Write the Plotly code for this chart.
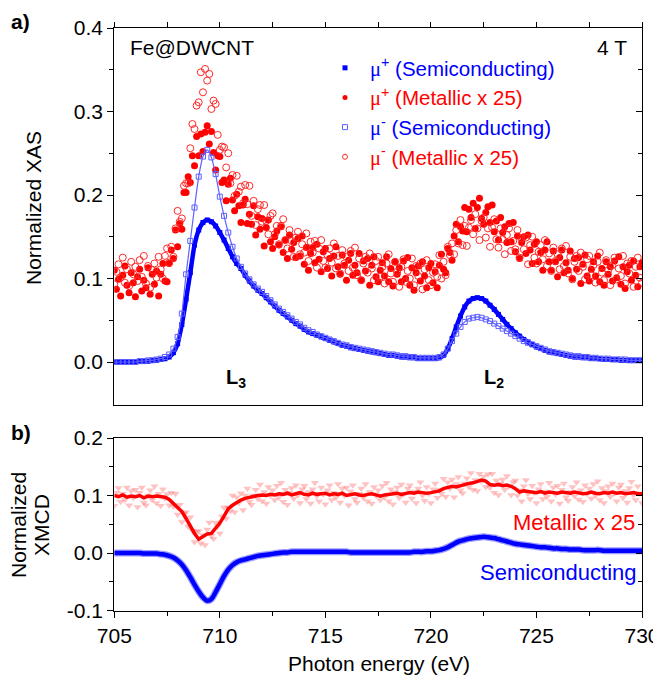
import numpy as np
import plotly.graph_objects as go

# ---------------- data ----------------
E_FINE = np.round(np.arange(705.0, 730.05, 0.1), 1)    # metallic XAS / XMCD raw sampling
E_COARSE = np.round(np.arange(705.0, 730.05, 0.2), 1)  # semiconducting / smoothed XMCD sampling

# mu+ metallic (x25), filled red circles
M_PLUS = [
    0.110, 0.087, 0.099, 0.079, 0.104, 0.115, 0.092, 0.083, 0.107, 0.095,
    0.078, 0.102, 0.111, 0.085, 0.098, 0.089, 0.113, 0.081, 0.105, 0.093,
    0.109, 0.079, 0.105, 0.118, 0.097, 0.096, 0.118, 0.134, 0.124, 0.158,
    0.138, 0.166, 0.159, 0.203, 0.203, 0.222, 0.215, 0.247, 0.235, 0.270,
    0.247, 0.273, 0.252, 0.275, 0.283, 0.261, 0.276, 0.251, 0.230, 0.247,
    0.246, 0.215, 0.218, 0.193, 0.213, 0.220, 0.194, 0.181, 0.201, 0.187,
    0.167, 0.188, 0.195, 0.166, 0.177, 0.165, 0.187, 0.152, 0.174, 0.159,
    0.172, 0.139, 0.161, 0.170, 0.144, 0.136, 0.150, 0.157, 0.140, 0.162,
    0.131, 0.146, 0.124, 0.152, 0.135, 0.143, 0.125, 0.148, 0.127, 0.151,
    0.117, 0.137, 0.110, 0.130, 0.137, 0.119, 0.141, 0.123, 0.108, 0.132,
    0.136, 0.112, 0.124, 0.103, 0.127, 0.138, 0.114, 0.105, 0.128, 0.116,
    0.098, 0.122, 0.130, 0.104, 0.116, 0.107, 0.130, 0.098, 0.121, 0.109,
    0.124, 0.092, 0.116, 0.126, 0.102, 0.096, 0.110, 0.119, 0.103, 0.126,
    0.096, 0.112, 0.091, 0.120, 0.105, 0.113, 0.096, 0.121, 0.100, 0.125,
    0.092, 0.113, 0.086, 0.107, 0.115, 0.097, 0.120, 0.103, 0.089, 0.113,
    0.118, 0.095, 0.108, 0.089, 0.116, 0.129, 0.111, 0.107, 0.136, 0.131,
    0.122, 0.151, 0.165, 0.144, 0.162, 0.157, 0.185, 0.156, 0.183, 0.173,
    0.190, 0.160, 0.185, 0.196, 0.172, 0.165, 0.179, 0.186, 0.167, 0.188,
    0.156, 0.169, 0.146, 0.173, 0.155, 0.162, 0.143, 0.166, 0.144, 0.167,
    0.132, 0.151, 0.124, 0.143, 0.150, 0.130, 0.152, 0.134, 0.118, 0.141,
    0.144, 0.120, 0.131, 0.110, 0.134, 0.144, 0.120, 0.110, 0.133, 0.120,
    0.102, 0.125, 0.134, 0.107, 0.119, 0.110, 0.133, 0.100, 0.124, 0.111,
    0.125, 0.094, 0.117, 0.128, 0.103, 0.097, 0.111, 0.120, 0.103, 0.127,
    0.096, 0.112, 0.092, 0.120, 0.105, 0.114, 0.097, 0.121, 0.101, 0.126,
    0.093, 0.114, 0.088, 0.108, 0.116, 0.098, 0.121, 0.104, 0.090, 0.114,
    0.119,
]

# mu- metallic (x25), open red circles
M_MINUS = [
    0.093, 0.108, 0.117, 0.101, 0.125, 0.095, 0.111, 0.091, 0.120, 0.105,
    0.114, 0.097, 0.122, 0.102, 0.127, 0.094, 0.115, 0.089, 0.110, 0.118,
    0.101, 0.126, 0.111, 0.100, 0.127, 0.136, 0.119, 0.138, 0.126, 0.160,
    0.181, 0.168, 0.172, 0.211, 0.214, 0.214, 0.256, 0.285, 0.279, 0.307,
    0.311, 0.347, 0.323, 0.351, 0.337, 0.345, 0.303, 0.313, 0.309, 0.272,
    0.254, 0.258, 0.257, 0.233, 0.250, 0.214, 0.224, 0.199, 0.223, 0.204,
    0.210, 0.190, 0.212, 0.189, 0.211, 0.175, 0.193, 0.164, 0.183, 0.188,
    0.168, 0.188, 0.169, 0.153, 0.175, 0.178, 0.153, 0.163, 0.141, 0.163,
    0.171, 0.146, 0.136, 0.158, 0.145, 0.126, 0.149, 0.156, 0.129, 0.141,
    0.131, 0.154, 0.121, 0.144, 0.131, 0.145, 0.113, 0.136, 0.146, 0.121,
    0.113, 0.128, 0.136, 0.119, 0.142, 0.112, 0.127, 0.106, 0.134, 0.118,
    0.126, 0.109, 0.133, 0.113, 0.137, 0.104, 0.124, 0.098, 0.118, 0.126,
    0.107, 0.130, 0.112, 0.098, 0.121, 0.126, 0.102, 0.114, 0.094, 0.118,
    0.129, 0.106, 0.096, 0.120, 0.108, 0.090, 0.114, 0.123, 0.096, 0.109,
    0.100, 0.124, 0.092, 0.115, 0.103, 0.118, 0.087, 0.111, 0.122, 0.098,
    0.092, 0.107, 0.117, 0.102, 0.128, 0.100, 0.120, 0.104, 0.138, 0.128,
    0.142, 0.129, 0.158, 0.142, 0.170, 0.140, 0.163, 0.139, 0.161, 0.170,
    0.153, 0.177, 0.160, 0.146, 0.169, 0.173, 0.149, 0.160, 0.138, 0.161,
    0.171, 0.147, 0.137, 0.160, 0.147, 0.129, 0.152, 0.160, 0.133, 0.145,
    0.135, 0.158, 0.125, 0.148, 0.135, 0.149, 0.117, 0.140, 0.150, 0.125,
    0.118, 0.132, 0.140, 0.123, 0.146, 0.115, 0.130, 0.109, 0.137, 0.121,
    0.129, 0.111, 0.136, 0.115, 0.139, 0.106, 0.126, 0.099, 0.120, 0.127,
    0.109, 0.131, 0.114, 0.099, 0.123, 0.127, 0.104, 0.116, 0.095, 0.120,
    0.131, 0.107, 0.098, 0.122, 0.110, 0.092, 0.116, 0.125, 0.099, 0.112,
    0.103, 0.127, 0.094, 0.118, 0.106, 0.121, 0.090, 0.114, 0.125, 0.101,
    0.095,
]

# mu+ semiconducting, filled blue squares
S_PLUS = [
    0.000, 0.000, 0.000, 0.000, 0.000,
    0.000, 0.001, 0.001, 0.001, 0.002,
    0.002, 0.003, 0.004, 0.006, 0.011,
    0.022, 0.045, 0.075, 0.107, 0.140,
    0.158, 0.167, 0.170, 0.168, 0.163,
    0.155, 0.146, 0.136, 0.126, 0.118,
    0.112, 0.104, 0.097, 0.091, 0.086,
    0.082, 0.077, 0.072, 0.067, 0.062,
    0.058, 0.054, 0.050, 0.046, 0.043,
    0.039, 0.036, 0.034, 0.032, 0.030,
    0.028, 0.026, 0.024, 0.022, 0.020,
    0.019, 0.017, 0.016, 0.015, 0.014,
    0.013, 0.012, 0.011, 0.010, 0.009,
    0.008, 0.008, 0.007, 0.006, 0.006,
    0.005, 0.005, 0.004, 0.004, 0.004,
    0.004, 0.004, 0.005, 0.008, 0.016,
    0.028, 0.042, 0.055, 0.066, 0.073,
    0.076, 0.077, 0.076, 0.073, 0.068,
    0.063, 0.057, 0.051, 0.045, 0.040,
    0.035, 0.031, 0.027, 0.024, 0.021,
    0.018, 0.016, 0.014, 0.012, 0.011,
    0.010, 0.009, 0.008, 0.007, 0.006,
    0.006, 0.005, 0.005, 0.004, 0.004,
    0.004, 0.003, 0.003, 0.003, 0.003,
    0.002, 0.002, 0.002, 0.002, 0.002,
    0.002,
]

# mu- semiconducting, open blue squares
S_MINUS = [
    0.000, 0.000, 0.000, 0.000, 0.000,
    0.000, 0.001, 0.001, 0.002, 0.002,
    0.003, 0.004, 0.006, 0.009, 0.016,
    0.030, 0.058, 0.105, 0.145, 0.185,
    0.222, 0.246, 0.254, 0.245, 0.225,
    0.198, 0.175, 0.155, 0.138, 0.124,
    0.114, 0.106, 0.099, 0.093, 0.088,
    0.084, 0.079, 0.074, 0.069, 0.064,
    0.060, 0.056, 0.052, 0.048, 0.045,
    0.041, 0.038, 0.036, 0.033, 0.031,
    0.029, 0.027, 0.025, 0.023, 0.021,
    0.020, 0.018, 0.017, 0.016, 0.015,
    0.014, 0.013, 0.012, 0.011, 0.010,
    0.009, 0.009, 0.008, 0.007, 0.007,
    0.006, 0.006, 0.005, 0.005, 0.005,
    0.005, 0.005, 0.006, 0.009, 0.016,
    0.025, 0.034, 0.042, 0.048, 0.052,
    0.053, 0.054, 0.053, 0.051, 0.049,
    0.046, 0.043, 0.040, 0.037, 0.034,
    0.031, 0.028, 0.025, 0.023, 0.021,
    0.019, 0.017, 0.015, 0.013, 0.012,
    0.011, 0.010, 0.009, 0.008, 0.007,
    0.007, 0.006, 0.006, 0.005, 0.005,
    0.004, 0.004, 0.004, 0.003, 0.003,
    0.003, 0.003, 0.002, 0.002, 0.002,
    0.002,
]

# XMCD semiconducting
XMCD_S = [
    0.000, 0.000, 0.000, 0.000, 0.000,
    0.000, 0.000, -0.001, -0.001, -0.001,
    -0.001, -0.002, -0.003, -0.005, -0.008,
    -0.013, -0.020, -0.030, -0.042, -0.055,
    -0.067, -0.077, -0.083, -0.080, -0.068,
    -0.054, -0.040, -0.029, -0.021, -0.016,
    -0.013, -0.011, -0.009, -0.007, -0.005,
    -0.004, -0.003, -0.002, -0.001, 0.000,
    0.001, 0.001, 0.002, 0.002, 0.002,
    0.002, 0.002, 0.002, 0.002, 0.002,
    0.002, 0.002, 0.002, 0.002, 0.002,
    0.002, 0.001, 0.001, 0.001, 0.001,
    0.001, 0.001, 0.001, 0.001, 0.001,
    0.001, 0.001, 0.001, 0.001, 0.001,
    0.001, 0.002, 0.002, 0.002, 0.003,
    0.003, 0.004, 0.005, 0.007, 0.010,
    0.014, 0.018, 0.021, 0.023, 0.025,
    0.026, 0.027, 0.028, 0.028, 0.027,
    0.026, 0.024, 0.022, 0.020, 0.018,
    0.016, 0.015, 0.014, 0.013, 0.012,
    0.011, 0.010, 0.010, 0.009, 0.008,
    0.008, 0.007, 0.007, 0.006, 0.006,
    0.006, 0.005, 0.005, 0.005, 0.005,
    0.005, 0.004, 0.004, 0.004, 0.004,
    0.004, 0.004, 0.004, 0.004, 0.004,
    0.004,
]

# XMCD metallic (x25, offset by 0.1) smoothed line
XMCD_M = [
    0.100, 0.098, 0.101, 0.097, 0.099,
    0.098, 0.100, 0.096, 0.099, 0.098,
    0.099, 0.098, 0.097, 0.093, 0.086,
    0.080, 0.072, 0.060, 0.046, 0.034,
    0.024, 0.028, 0.033, 0.034, 0.042,
    0.052, 0.064, 0.077, 0.083, 0.088,
    0.092, 0.095, 0.097, 0.099, 0.100,
    0.101, 0.100, 0.102, 0.101, 0.103,
    0.102, 0.104, 0.101, 0.103, 0.105,
    0.102, 0.101, 0.104, 0.102, 0.103,
    0.104, 0.101, 0.103, 0.102, 0.104,
    0.100, 0.102, 0.103, 0.101, 0.100,
    0.102, 0.103, 0.101, 0.099, 0.101,
    0.102, 0.103, 0.104, 0.102, 0.104,
    0.105, 0.104, 0.106, 0.105, 0.104,
    0.105, 0.106, 0.108, 0.112, 0.114,
    0.116, 0.115, 0.117, 0.120, 0.121,
    0.122, 0.124, 0.127, 0.125, 0.119,
    0.118, 0.119, 0.117, 0.118, 0.116,
    0.112, 0.106, 0.108, 0.107, 0.106,
    0.105, 0.107, 0.104, 0.106, 0.105,
    0.104, 0.106, 0.105, 0.104, 0.106,
    0.105, 0.103, 0.104, 0.106, 0.104,
    0.103, 0.105, 0.104, 0.106, 0.104,
    0.105, 0.103, 0.104, 0.105, 0.103,
    0.103,
]

# XMCD metallic raw points (pink triangles), 0.1 eV sampling
XMCD_M_PTS = [
    0.082, 0.105, 0.113, 0.089, 0.103, 0.092, 0.114, 0.083, 0.108, 0.096,
    0.110, 0.080, 0.105, 0.114, 0.088, 0.083, 0.100, 0.109, 0.092, 0.116,
    0.087, 0.103, 0.082, 0.111, 0.095, 0.102, 0.083, 0.105, 0.081, 0.103,
    0.067, 0.084, 0.054, 0.069, 0.071, 0.046, 0.062, 0.039, 0.019, 0.038,
    0.038, 0.017, 0.031, 0.014, 0.041, 0.053, 0.030, 0.025, 0.053, 0.046,
    0.034, 0.064, 0.079, 0.060, 0.079, 0.073, 0.100, 0.071, 0.097, 0.087,
    0.104, 0.075, 0.100, 0.112, 0.089, 0.084, 0.100, 0.110, 0.094, 0.119,
    0.090, 0.106, 0.086, 0.115, 0.100, 0.109, 0.092, 0.117, 0.097, 0.122,
    0.089, 0.110, 0.084, 0.105, 0.113, 0.095, 0.118, 0.101, 0.087, 0.111,
    0.117, 0.094, 0.106, 0.086, 0.111, 0.122, 0.099, 0.090, 0.114, 0.102,
    0.085, 0.109, 0.118, 0.092, 0.105, 0.096, 0.120, 0.088, 0.112, 0.100,
    0.114, 0.083, 0.107, 0.118, 0.094, 0.088, 0.103, 0.112, 0.096, 0.120,
    0.090, 0.106, 0.086, 0.115, 0.100, 0.109, 0.092, 0.117, 0.097, 0.122,
    0.090, 0.111, 0.085, 0.106, 0.114, 0.096, 0.119, 0.102, 0.088, 0.112,
    0.118, 0.095, 0.107, 0.087, 0.112, 0.123, 0.100, 0.091, 0.115, 0.103,
    0.087, 0.111, 0.121, 0.096, 0.110, 0.103, 0.129, 0.098, 0.123, 0.112,
    0.128, 0.097, 0.120, 0.132, 0.109, 0.104, 0.121, 0.130, 0.115, 0.139,
    0.110, 0.127, 0.108, 0.138, 0.125, 0.133, 0.115, 0.137, 0.114, 0.138,
    0.105, 0.126, 0.101, 0.121, 0.128, 0.110, 0.134, 0.116, 0.101, 0.123,
    0.126, 0.100, 0.109, 0.090, 0.116, 0.127, 0.103, 0.094, 0.117, 0.105,
    0.087, 0.111, 0.120, 0.094, 0.107, 0.098, 0.122, 0.090, 0.114, 0.102,
    0.117, 0.086, 0.110, 0.121, 0.097, 0.091, 0.106, 0.115, 0.099, 0.123,
    0.093, 0.109, 0.089, 0.118, 0.103, 0.112, 0.095, 0.120, 0.100, 0.125,
    0.092, 0.113, 0.087, 0.108, 0.116, 0.098, 0.121, 0.104, 0.090, 0.114,
    0.119, 0.096, 0.108, 0.088, 0.113, 0.124, 0.101, 0.092, 0.116, 0.104,
    0.087,
]

LEGEND_LABELS = [
    "μ<sup>+</sup> (Semiconducting)",
    "μ<sup>+</sup> (Metallic x 25)",
    "μ<sup>-</sup> (Semiconducting)",
    "μ<sup>-</sup> (Metallic x 25)",
]
XAS_TICKS = [0.0, 0.1, 0.2, 0.3, 0.4]
XAS_TICKTEXT = ["0.0", "0.1", "0.2", "0.3", "0.4"]
XAS_MINOR = [0.05, 0.15, 0.25, 0.35]
XMCD_TICKS = [-0.1, 0.0, 0.1, 0.2]
XMCD_TICKTEXT = ["-0.1", "0.0", "0.1", "0.2"]
XMCD_MINOR = [-0.05, 0.05, 0.15]
E_TICKS = [705, 710, 715, 720, 725, 730]
E_MINOR = [707.5, 712.5, 717.5, 722.5, 727.5]

# ---------------- styling ----------------
FONT = "Liberation Sans, Arial, sans-serif"
BLUE = "rgb(0,0,255)"
BLUE_OPEN = "rgb(95,95,255)"
RED = "rgb(255,0,0)"
RED_OPEN = "rgb(255,40,40)"
PAGE_OFF = 8               # the page body's default margin
W, H = 661 - PAGE_OFF, 683 - 2 * PAGE_OFF


def px(x):
    """page x pixel -> paper fraction"""
    return (x - PAGE_OFF) / W


def py(y):
    """page y pixel -> paper fraction"""
    return 1 - (y - PAGE_OFF) / H


XD = [px(114.3), px(642)]
TOP_D = [py(405), py(28)]
BOT_D = [py(610.5), py(438)]

fig = go.Figure()

# ---- top panel data ----
fig.add_trace(go.Scatter(x=E_FINE, y=M_PLUS, mode="markers", xaxis="x", yaxis="y",
                         marker=dict(symbol="circle", size=7, color=RED), showlegend=False))
fig.add_trace(go.Scatter(x=E_FINE, y=M_MINUS, mode="markers", xaxis="x", yaxis="y",
                         marker=dict(symbol="circle-open", size=7, color=RED_OPEN,
                                     line=dict(width=1, color=RED_OPEN)), showlegend=False))
fig.add_trace(go.Scatter(x=E_COARSE, y=S_PLUS, mode="lines+markers", xaxis="x", yaxis="y",
                         line=dict(color=BLUE, width=4.5, shape="spline", smoothing=0.6),
                         marker=dict(symbol="square", size=5, color=BLUE), showlegend=False))
fig.add_trace(go.Scatter(x=E_COARSE, y=S_MINUS, mode="lines+markers", xaxis="x", yaxis="y",
                         line=dict(color=BLUE_OPEN, width=1.2, shape="spline", smoothing=0.6),
                         marker=dict(symbol="square-open", size=5, color=BLUE_OPEN,
                                     line=dict(width=1, color=BLUE_OPEN)), showlegend=False))

# ---- legend entries ----
leg_styles = [
    dict(symbol="square", size=5, color=BLUE),
    dict(symbol="circle", size=5, color=RED),
    dict(symbol="square-open", size=5, color=BLUE_OPEN, line=dict(width=1, color=BLUE_OPEN)),
    dict(symbol="circle-open", size=5, color=RED_OPEN, line=dict(width=1, color=RED_OPEN)),
]
leg_colors = [BLUE, RED, BLUE, RED]
for i, (lab, st, col) in enumerate(zip(LEGEND_LABELS, leg_styles, leg_colors)):
    rest = lab.split("μ", 1)[1]
    name = (f'<span style="color:{col}"><span style="font-family:Liberation Serif">μ</span>'
            f'{rest}</span>')
    fig.add_trace(go.Scatter(x=[None], y=[None], mode="markers", xaxis="x", yaxis="y",
                             marker=st, name=name, legendgroup=f"g{i}", legendrank=i + 1,
                             showlegend=True))

# ---- bottom panel data ----
fig.add_trace(go.Scatter(x=E_FINE, y=XMCD_M_PTS, mode="markers", xaxis="x2", yaxis="y2",
                         marker=dict(symbol="triangle-down", size=7, color="rgba(255,70,70,0.33)"),
                         showlegend=False))
fig.add_trace(go.Scatter(x=E_COARSE, y=XMCD_M, mode="lines", xaxis="x2", yaxis="y2",
                         line=dict(color=RED, width=3.5), showlegend=False))
fig.add_trace(go.Scatter(x=E_COARSE, y=XMCD_S, mode="lines", xaxis="x2", yaxis="y2",
                         line=dict(color="rgba(60,60,255,0.5)", width=7, shape="spline"),
                         showlegend=False))
fig.add_trace(go.Scatter(x=E_COARSE, y=XMCD_S, mode="lines", xaxis="x2", yaxis="y2",
                         line=dict(color=BLUE, width=4.5, shape="spline"), showlegend=False))

# invisible anchors for right-hand tick axes
fig.add_trace(go.Scatter(x=[None], y=[None], xaxis="x", yaxis="y3", showlegend=False))
fig.add_trace(go.Scatter(x=[None], y=[None], xaxis="x2", yaxis="y4", showlegend=False))

tickfont = dict(family=FONT, size=21, color="black")
common = dict(showgrid=False, zeroline=False, linecolor="black", linewidth=1.3,
              tickcolor="black", tickwidth=1.2, automargin=False)

fig.update_layout(
    template="none",
    width=W, height=H, autosize=False,
    margin=dict(l=0, r=0, t=0, b=0, pad=0),
    paper_bgcolor="white", plot_bgcolor="white",
    font=dict(family=FONT, size=21, color="black"),
    xaxis=dict(domain=XD, anchor="y", range=[705, 730], side="top", ticks="outside",
               ticklen=5, tickmode="linear", tick0=705, dtick=2.5, showticklabels=False,
               showline=True, mirror=True, **common),
    yaxis=dict(domain=TOP_D, anchor="x", range=[-0.0515, 0.4], tickmode="array",
               tickvals=XAS_TICKS, ticktext=XAS_TICKTEXT, ticks="outside", ticklen=6,
               tickfont=tickfont, showline=True, mirror=True,
               minor=dict(ticks="outside", ticklen=4, tickvals=XAS_MINOR,
                          tickcolor="black", tickwidth=1.2),
               **common),
    yaxis3=dict(overlaying="y", anchor="x", side="right", range=[-0.0515, 0.4],
                tickmode="array", tickvals=XAS_TICKS, ticks="inside", ticklen=6,
                showticklabels=False, showline=False,
                minor=dict(ticks="inside", ticklen=4, tickvals=XAS_MINOR,
                           tickcolor="black", tickwidth=1.2),
                **common),
    xaxis2=dict(domain=XD, anchor="y2", range=[705, 730], tickmode="array", tickvals=E_TICKS,
                ticks="outside", ticklen=6, tickfont=tickfont, showline=True, mirror=True,
                minor=dict(ticks="outside", ticklen=4, tickvals=E_MINOR,
                           tickcolor="black", tickwidth=1.2),
                **common),
    yaxis2=dict(domain=BOT_D, anchor="x2", range=[-0.1, 0.2], tickmode="array",
                tickvals=XMCD_TICKS, ticktext=XMCD_TICKTEXT, ticks="outside", ticklen=6,
                tickfont=tickfont, showline=True, mirror=True,
                minor=dict(ticks="outside", ticklen=4, tickvals=XMCD_MINOR,
                           tickcolor="black", tickwidth=1.2),
                **common),
    yaxis4=dict(overlaying="y2", anchor="x2", side="right", range=[-0.1, 0.2],
                tickmode="array", tickvals=XMCD_TICKS, ticks="inside", ticklen=6,
                showticklabels=False, showline=False,
                minor=dict(ticks="inside", ticklen=4, tickvals=XMCD_MINOR,
                           tickcolor="black", tickwidth=1.2),
                **common),
    legend=dict(x=px(320), y=py(48), xanchor="left", yanchor="top",
                bgcolor="rgba(0,0,0,0)", borderwidth=0, itemwidth=40,
                tracegroupgap=0, font=dict(family=FONT, size=20.5)),
    showlegend=True,
)

ann = []


def add_text(text, x, y, size=21, color="black", xanchor="center", angle=0):
    ann.append(dict(text=text, x=px(x), y=py(y), xref="paper", yref="paper",
                    showarrow=False, xanchor=xanchor, yanchor="middle",
                    textangle=angle, font=dict(family=FONT, size=size, color=color)))


add_text("<b>a)</b>", 9, 21, xanchor="left")
add_text("<b>b)</b>", 9, 432, xanchor="left")
add_text("Fe@DWCNT", 128, 47, xanchor="left")
add_text("4 T", 629, 47, xanchor="right")
add_text("<b>L</b><sub><b>3</b></sub>", 236, 378, size=20)
add_text("<b>L</b><sub><b>2</b></sub>", 494, 378, size=20)
add_text("Metallic x 25", 637, 522, size=22, color=RED, xanchor="right")
add_text("Semiconducting", 639, 572, size=22, color=BLUE, xanchor="right")
add_text("Normalized XAS", 33, 208, angle=-90)
add_text("Normalized", 18, 525, angle=-90)
add_text("XMCD", 41, 525, angle=-90)
add_text("Photon energy (eV)", 379, 663)
fig.update_layout(annotations=ann)

fig.write_html("out.html")
